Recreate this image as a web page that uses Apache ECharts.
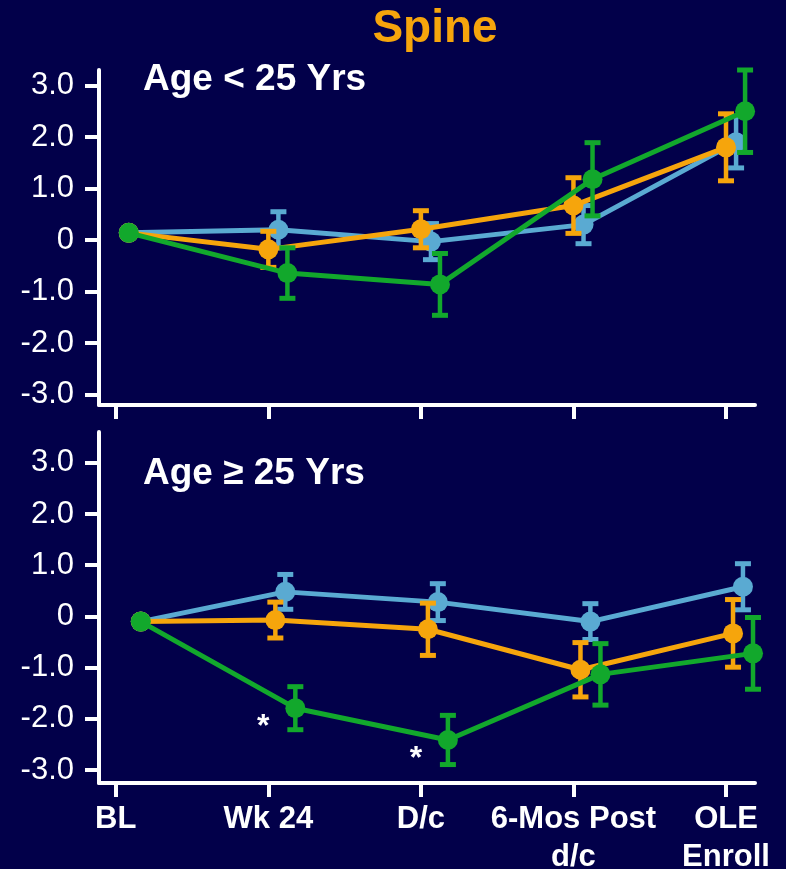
<!DOCTYPE html>
<html>
<head>
<meta charset="utf-8">
<title>Spine</title>
<script src="https://cdn.jsdelivr.net/npm/echarts@6.0.0/dist/echarts.min.js"></script>
<style>
html,body{margin:0;padding:0;background:#02004a;}
#main{width:786px;height:869px;}
</style>
</head>
<body>
<div id="main"></div>
<script>
var categories = ['BL', 'Wk 24', 'D/c', '6-Mos Post\nd/c', 'OLE\nEnroll'];
var yTicks = [-3, -2, -1, 0, 1, 2, 3];

// Age < 25 Yrs
var youngOrange = [0.14, -0.18, 0.21, 0.67, 1.80];
var youngOrangeErr = [0, 0.35, 0.36, 0.54, 0.65];
var youngBlue = [0.14, 0.20, -0.03, 0.30, 1.90];
var youngBlueErr = [0, 0.35, 0.35, 0.37, 0.50];
var youngGreen = [0.14, -0.64, -0.86, 1.18, 2.50];
var youngGreenErr = [0, 0.49, 0.60, 0.71, 0.80];

// Age >= 25 Yrs
var oldOrange = [-0.10, -0.07, -0.25, -1.04, -0.33];
var oldOrangeErr = [0, 0.35, 0.51, 0.53, 0.66];
var oldBlue = [-0.10, 0.48, 0.28, -0.10, 0.58];
var oldBlueErr = [0, 0.34, 0.36, 0.35, 0.45];
var oldGreen = [-0.10, -1.79, -2.41, -1.13, -0.72];
var oldGreenErr = [0, 0.42, 0.48, 0.60, 0.70];
var oldGreenSig = ['', '*', '*', '', ''];

var ORANGE = '#f6a50c', BLUE = '#5aaad2', GREEN = '#12a82c';
var FONT = '"Liberation Sans", Arial, sans-serif';

// small horizontal dodge so the groups don't sit on top of each other
var shiftTop = {bl: 0.085, orange: 0, blue: 0.066, green: 0.125};
var shiftBot = {bl: 0.164, orange: 0.046, blue: 0.111, green: 0.177};

function pts(vals, shift, blShift) {
	return vals.map(function(v, i){ return [i + (i === 0 ? blShift : shift), v]; });
}
function bars(vals, errs, shift) {
	var out = [];
	for (var i = 1; i < vals.length; i++) {
		out.push([i + shift, vals[i] - errs[i], vals[i] + errs[i]]);
	}
	return out;
}
function errSeries(data, color, idx, z) {
	return {
		type: 'custom', xAxisIndex: idx, yAxisIndex: idx, z: z,
		renderItem: function(params, api){
			var lo = api.coord([api.value(0), api.value(1)]);
			var hi = api.coord([api.value(0), api.value(2)]);
			var w = 8;
			return {type: 'group', children: [
				{type: 'line', shape: {x1: lo[0], y1: lo[1], x2: hi[0], y2: hi[1]}, style: {stroke: color, lineWidth: 4.5}},
				{type: 'line', shape: {x1: lo[0]-w, y1: lo[1], x2: lo[0]+w, y2: lo[1]}, style: {stroke: color, lineWidth: 5}},
				{type: 'line', shape: {x1: hi[0]-w, y1: hi[1], x2: hi[0]+w, y2: hi[1]}, style: {stroke: color, lineWidth: 5}}
			]};
		},
		encode: {x: 0, y: [1, 2]},
		data: data
	};
}
function lineSeries(data, color, idx, z, sig) {
	var s = {
		type: 'line', xAxisIndex: idx, yAxisIndex: idx, z: z,
		data: data, symbol: 'circle', symbolSize: 20, showAllSymbol: true,
		lineStyle: {color: color, width: 5},
		itemStyle: {color: color},
		label: {show: false}
	};
	if (sig) {
		s.label = {
			show: true, position: 'inside', offset: [-32, 19],
			formatter: function(p){ return sig[p.dataIndex]; },
			color: '#fff', fontSize: 32, fontWeight: 'bold', fontFamily: FONT
		};
	}
	return s;
}
function xAx(idx, showLabels) {
	return {
		type: 'value', gridIndex: idx, min: -0.11, max: 4.19,
		axisLine: {show: true, onZero: false, lineStyle: {color: '#fff', width: 4}},
		axisTick: {show: true, customValues: [0, 1, 2, 3, 4], length: 14, lineStyle: {color: '#fff', width: 4}},
		axisLabel: {
			show: showLabels, customValues: [0, 1, 2, 3, 4],
			formatter: function(v){ return categories[Math.round(v)]; },
			color: '#fff', fontSize: 31, fontWeight: 'bold', fontFamily: FONT,
			lineHeight: 38, margin: 17
		},
		splitLine: {show: false}
	};
}
function yAx(idx, min, max) {
	return {
		type: 'value', gridIndex: idx, min: min, max: max,
		axisLine: {show: true, onZero: false, lineStyle: {color: '#fff', width: 4}},
		axisTick: {show: true, customValues: yTicks, length: 14, lineStyle: {color: '#fff', width: 4}},
		axisLabel: {
			customValues: yTicks,
			formatter: function(v){ return v === 0 ? '0' : v.toFixed(1); },
			color: '#fff', fontSize: 31, fontFamily: FONT, margin: 25
		},
		splitLine: {show: false}
	};
}

var option = {
	backgroundColor: '#02004a',
	animation: false,
	grid: [
		{left: 99, right: 31, top: 70, height: 335, containLabel: false, outerBoundsMode: 'none'},
		{left: 99, right: 31, top: 432, height: 351, containLabel: false, outerBoundsMode: 'none'}
	],
	xAxis: [xAx(0, false), xAx(1, true)],
	yAxis: [yAx(0, -3.2, 3.3), yAx(1, -3.25, 3.6)],
	graphic: [
		{type: 'text', x: 435, y: 29, style: {text: 'Spine', fill: ORANGE, font: 'bold 46px ' + FONT, align: 'center', verticalAlign: 'middle'}},
		{type: 'text', x: 143, y: 80, style: {text: 'Age < 25 Yrs', fill: '#fff', font: 'bold 37px ' + FONT, align: 'left', verticalAlign: 'middle'}},
		{type: 'text', x: 143, y: 474, style: {text: 'Age \u2265 25 Yrs', fill: '#fff', font: 'bold 37px ' + FONT, align: 'left', verticalAlign: 'middle'}}
	],
	series: [
		errSeries(bars(youngBlue, youngBlueErr, shiftTop.blue), BLUE, 0, 2),
		lineSeries(pts(youngBlue, shiftTop.blue, shiftTop.bl), BLUE, 0, 3),
		errSeries(bars(youngOrange, youngOrangeErr, shiftTop.orange), ORANGE, 0, 4),
		lineSeries(pts(youngOrange, shiftTop.orange, shiftTop.bl), ORANGE, 0, 5),
		errSeries(bars(youngGreen, youngGreenErr, shiftTop.green), GREEN, 0, 6),
		lineSeries(pts(youngGreen, shiftTop.green, shiftTop.bl), GREEN, 0, 7),

		errSeries(bars(oldBlue, oldBlueErr, shiftBot.blue), BLUE, 1, 2),
		lineSeries(pts(oldBlue, shiftBot.blue, shiftBot.bl), BLUE, 1, 3),
		errSeries(bars(oldOrange, oldOrangeErr, shiftBot.orange), ORANGE, 1, 4),
		lineSeries(pts(oldOrange, shiftBot.orange, shiftBot.bl), ORANGE, 1, 5),
		errSeries(bars(oldGreen, oldGreenErr, shiftBot.green), GREEN, 1, 6),
		lineSeries(pts(oldGreen, shiftBot.green, shiftBot.bl), GREEN, 1, 7, oldGreenSig)
	]
};

var chart = echarts.init(document.getElementById('main'));
chart.setOption(option);
</script>
</body>
</html>
